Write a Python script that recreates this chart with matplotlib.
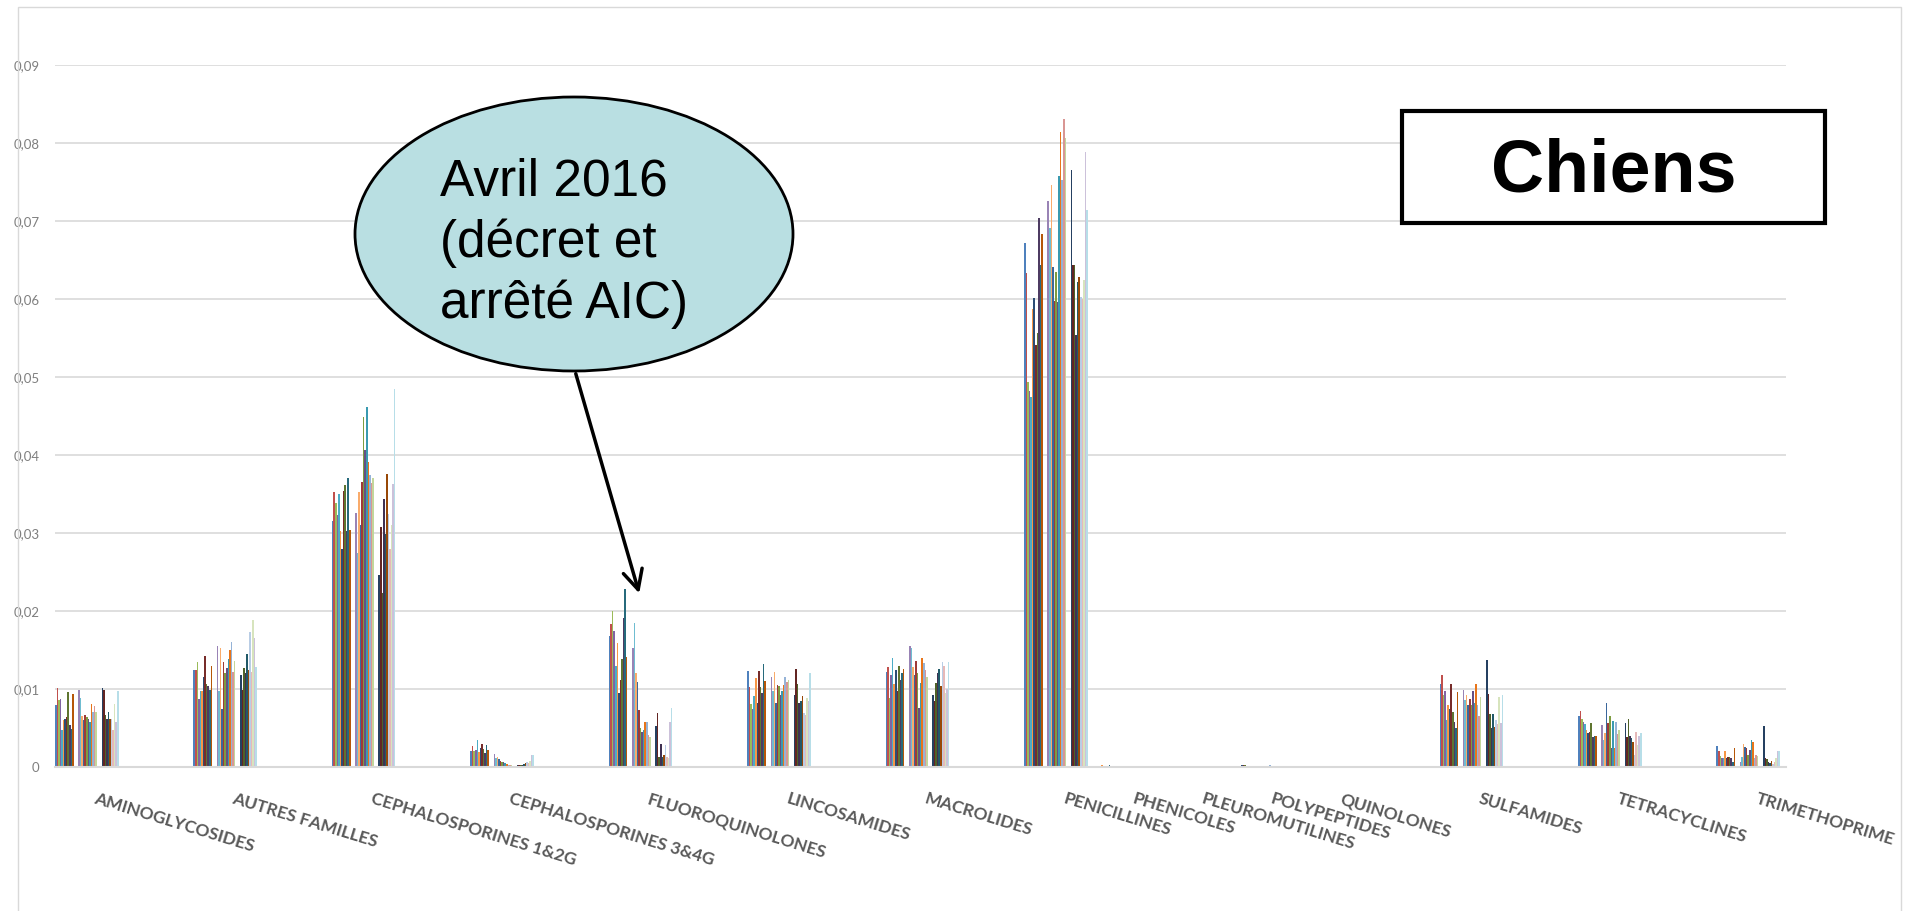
import matplotlib
matplotlib.use("Agg")
import matplotlib.pyplot as plt
from matplotlib.patches import Ellipse, Rectangle
import numpy as np

# antibiotic families (x axis)
categories = ["AMINOGLYCOSIDES", "AUTRES FAMILLES", "CEPHALOSPORINES 1&2G",
              "CEPHALOSPORINES 3&4G", "FLUOROQUINOLONES", "LINCOSAMIDES",
              "MACROLIDES", "PENICILLINES", "PHENICOLES", "PLEUROMUTILINES",
              "POLYPEPTIDES", "QUINOLONES", "SULFAMIDES", "TETRACYCLINES",
              "TRIMETHOPRIME"]

# monthly values, 3 years (12 + 12 + 11 months) per family
aminoglycosides = [0.0079, 0.0101, 0.0086, 0.0087, 0.0047, 0.0060, 0.0061, 0.0064, 0.0096, 0.0054, 0.0049, 0.0093,
                   0.0099, 0.0089, 0.0065, 0.0060, 0.0067, 0.0064, 0.0061, 0.0058, 0.0081, 0.0070, 0.0078, 0.0070,
                   0.0101, 0.0099, 0.0067, 0.0061, 0.0070, 0.0062, 0.0062, 0.0048, 0.0081, 0.0058, 0.0097]
autres = [0.0124, 0.0125, 0.0134, 0.0087, 0.0098, 0.0097, 0.0116, 0.0142, 0.0107, 0.0104, 0.0099, 0.0129,
          0.0155, 0.0098, 0.0152, 0.0075, 0.0134, 0.0120, 0.0127, 0.0138, 0.0150, 0.0160, 0.0122, 0.0136,
          0.0118, 0.0099, 0.0127, 0.0120, 0.0145, 0.0124, 0.0173, 0.0122, 0.0189, 0.0165, 0.0128]
ceph12 = [0.0315, 0.0352, 0.0338, 0.0323, 0.0350, 0.0303, 0.0280, 0.0354, 0.0361, 0.0302, 0.0370, 0.0304,
          0.0326, 0.0275, 0.0352, 0.0310, 0.0366, 0.0449, 0.0406, 0.0462, 0.0391, 0.0374, 0.0364, 0.0370,
          0.0246, 0.0308, 0.0223, 0.0344, 0.0299, 0.0376, 0.0325, 0.0280, 0.0310, 0.0363, 0.0485]
ceph34 = [0.0021, 0.0027, 0.0021, 0.0022, 0.0034, 0.0019, 0.0024, 0.0029, 0.0023, 0.0018, 0.0028, 0.0022,
          0.0017, 0.0011, 0.0013, 0.0010, 0.0008, 0.0007, 0.0006, 0.0005, 0.0004, 0.0003, 0.0002, 0.0002,
          0.0003, 0.0003, 0.0002, 0.0003, 0.0004, 0.0005, 0.0006, 0.0005, 0.0008, 0.0015, 0.0016]
fluoro = [0.0168, 0.0183, 0.0200, 0.0174, 0.0129, 0.0159, 0.0095, 0.0112, 0.0138, 0.0191, 0.0228, 0.0141,
          0.0153, 0.0184, 0.0121, 0.0109, 0.0073, 0.0050, 0.0045, 0.0048, 0.0058, 0.0058, 0.0041, 0.0038,
          0.0053, 0.0069, 0.0013, 0.0030, 0.0013, 0.0015, 0.0028, 0.0013, 0.0012, 0.0058, 0.0076]
lincosamides = [0.0123, 0.0102, 0.0081, 0.0074, 0.0091, 0.0114, 0.0082, 0.0123, 0.0103, 0.0095, 0.0132, 0.0110,
                0.0116, 0.0097, 0.0122, 0.0082, 0.0105, 0.0104, 0.0092, 0.0097, 0.0105, 0.0116, 0.0109, 0.0112,
                0.0092, 0.0126, 0.0106, 0.0082, 0.0085, 0.0091, 0.0069, 0.0067, 0.0088, 0.0085, 0.0120]
macrolides = [0.0122, 0.0128, 0.0088, 0.0118, 0.0140, 0.0106, 0.0125, 0.0098, 0.0130, 0.0112, 0.0120, 0.0126,
              0.0155, 0.0152, 0.0128, 0.0118, 0.0136, 0.0120, 0.0076, 0.0108, 0.0140, 0.0133, 0.0125, 0.0115,
              0.0092, 0.0085, 0.0108, 0.0121, 0.0126, 0.0104, 0.0135, 0.0130, 0.0095, 0.0100, 0.0135]
penicillines = [0.0672, 0.0633, 0.0494, 0.0482, 0.0474, 0.0587, 0.0601, 0.0541, 0.0557, 0.0704, 0.0644, 0.0683,
                0.0726, 0.0691, 0.0746, 0.0641, 0.0597, 0.0634, 0.0596, 0.0758, 0.0814, 0.0753, 0.0831, 0.0807,
                0.0766, 0.0643, 0.0643, 0.0554, 0.0622, 0.0628, 0.0602, 0.0600, 0.0625, 0.0789, 0.0714]
phenicoles = [0, 0, 0, 0, 0, 0.0002, 0, 0, 0, 0, 0.0002, 0,
              0, 0, 0, 0, 0, 0, 0, 0, 0, 0, 0, 0,
              0, 0, 0, 0, 0, 0, 0, 0, 0, 0, 0]
pleuromutilines = [0, 0, 0, 0, 0, 0, 0, 0, 0, 0, 0, 0,
                   0, 0, 0, 0, 0, 0, 0, 0.0001, 0, 0, 0, 0,
                   0, 0, 0, 0, 0, 0, 0, 0, 0, 0, 0]
polypeptides = [0, 0, 0, 0, 0, 0, 0.0002, 0.0003, 0.0002, 0, 0, 0,
                0, 0, 0, 0, 0, 0, 0, 0, 0, 0.0002, 0, 0,
                0, 0, 0, 0, 0, 0, 0, 0, 0, 0, 0]
quinolones = [0] * 35
sulfamides = [0.0107, 0.0118, 0.0092, 0.0098, 0.0060, 0.0079, 0.0074, 0.0107, 0.0071, 0.0058, 0.0050, 0.0096,
              0.0099, 0.0086, 0.0092, 0.0079, 0.0087, 0.0079, 0.0097, 0.0082, 0.0107, 0.0079, 0.0065, 0.0090,
              0.0137, 0.0094, 0.0068, 0.0050, 0.0068, 0.0051, 0.0060, 0.0055, 0.0090, 0.0056, 0.0092]
tetracyclines = [0.0065, 0.0072, 0.0062, 0.0058, 0.0055, 0.0047, 0.0044, 0.0045, 0.0057, 0.0039, 0.0040, 0.0040,
                 0.0054, 0.0035, 0.0044, 0.0082, 0.0056, 0.0065, 0.0024, 0.0059, 0.0024, 0.0058, 0.0042, 0.0048,
                 0.0057, 0.0039, 0.0062, 0.0040, 0.0037, 0.0032, 0.0015, 0.0045, 0.0028, 0.0040, 0.0044]
trimethoprime = [0.0027, 0.0021, 0.0014, 0.0011, 0.0012, 0.0020, 0.0011, 0.0013, 0.0013, 0.0011, 0.0007, 0.0024,
                 0.0007, 0.0013, 0.0029, 0.0026, 0.0024, 0.0015, 0.0022, 0.0035, 0.0032, 0.0011, 0.0015, 0.0014,
                 0.0053, 0.0012, 0.0010, 0.0007, 0.0005, 0.0008, 0.0004, 0.0006, 0.0012, 0.0021, 0.0020]

families = [aminoglycosides, autres, ceph12, ceph34, fluoro, lincosamides, macrolides,
            penicillines, phenicoles, pleuromutilines, polypeptides, quinolones,
            sulfamides, tetracyclines, trimethoprime]

yticks = [0, 0.01, 0.02, 0.03, 0.04, 0.05, 0.06, 0.07, 0.08, 0.09]

# x position of each family (the 4 nearly empty ones are packed closer)
slot = [0, 1, 2, 3, 4, 5, 6, 7, 7.5, 8, 8.5, 9, 10, 11, 12]

# office-like series colours
palette = ["#4F81BD", "#C0504D", "#9BBB59", "#8064A2", "#4BACC6", "#F79646",
           "#2C4D75", "#772C2A", "#5F7530", "#4D3B62", "#276A7C", "#B65708",
           "#729ACA", "#CD7371", "#AFC97A", "#9983B5", "#6FBDD1", "#F9AB6B",
           "#3A679C", "#9E3A38", "#7E9C40", "#664F83", "#3A9AB0", "#E8751A",
           "#95B3D7", "#D99694", "#C3D69B", "#B3A2C7", "#93CDDD", "#FAC090",
           "#254061", "#632523", "#4F6228", "#403152", "#215968", "#984807",
           "#B9CDE5", "#E6B9B8", "#D7E4BD", "#CCC1DA", "#B7DEE8"]

# series slot of each month (3 empty slots between years)
series_slot = list(range(0, 12)) + list(range(15, 27)) + list(range(30, 41))
bw = 0.0112

fig = plt.figure(figsize=(19.05, 9.11), dpi=100)
ax = fig.add_axes([55 / 1905, 1 - 767 / 911, (1786 - 55) / 1905, (767 - 65) / 911])

for ci, vals in enumerate(families):
    for k, v in enumerate(vals):
        s = series_slot[k]
        ax.bar(slot[ci] + (s - 20) * bw, v, width=bw, color=palette[s], linewidth=0)

ax.set_ylim(0, 0.09)
ax.set_xlim(-20.5 * bw, 12 + 20.5 * bw + 0.043)
ax.set_yticks(yticks)
ax.set_yticklabels(["0"] + [("%.2f" % t).replace(".", ",") for t in yticks[1:]],
                   fontsize=9.5, color="#7f7f7f", family="Lato")
ax.tick_params(axis="y", length=0, pad=11)
ax.tick_params(axis="x", length=0, labelbottom=False)
ax.grid(axis="y", color="#d9d9d9", linewidth=1.2)
ax.set_axisbelow(True)
for sp in ["top", "right", "left"]:
    ax.spines[sp].set_visible(False)
ax.spines["bottom"].set_color("#d9d9d9")
ax.spines["bottom"].set_linewidth(1.5)

for ci, name in enumerate(categories):
    ax.annotate(name, xy=(slot[ci], 0), xycoords=("data", "axes fraction"),
                xytext=(10, -24), textcoords="offset pixels", rotation=-17,
                rotation_mode="anchor", ha="left", va="top", fontsize=12.5,
                fontweight="bold", color="#595959", family="Lato")

# outer frame
fig.patches.append(Rectangle((18 / 1905, -0.05), (1901 - 18) / 1905, 1.05 - 7 / 911,
                             transform=fig.transFigure, fill=False,
                             edgecolor="#d9d9d9", linewidth=1))

# callout
fig.patches.append(Ellipse((574 / 1905, 1 - 234 / 911), 438 / 1905, 274 / 911,
                           transform=fig.transFigure, facecolor="#b9dfe2",
                           edgecolor="black", linewidth=2, zorder=5))
fig.text(440 / 1905, 1 - 158 / 911, "Avril 2016\n(décret et\narrêté AIC)",
         ha="left", va="top", fontsize=37, family="Liberation Sans",
         linespacing=1.3, zorder=6)
ax.annotate("", xy=(640 / 1905, 1 - 596 / 911), xycoords="figure fraction",
            xytext=(575 / 1905, 1 - 371 / 911), textcoords="figure fraction",
            arrowprops=dict(arrowstyle="->", lw=2.5, color="black", mutation_scale=35),
            annotation_clip=False)

# title box
fig.patches.append(Rectangle((1402 / 1905, 1 - 223 / 911), 423 / 1905, 112 / 911,
                             transform=fig.transFigure, facecolor="white",
                             edgecolor="black", linewidth=3, zorder=5))
fig.text(1614 / 1905, 1 - 172 / 911, "Chiens", ha="center", va="center",
         fontsize=53, fontweight="bold", family="Liberation Sans", zorder=6)

fig.savefig("out.png", dpi=100)
